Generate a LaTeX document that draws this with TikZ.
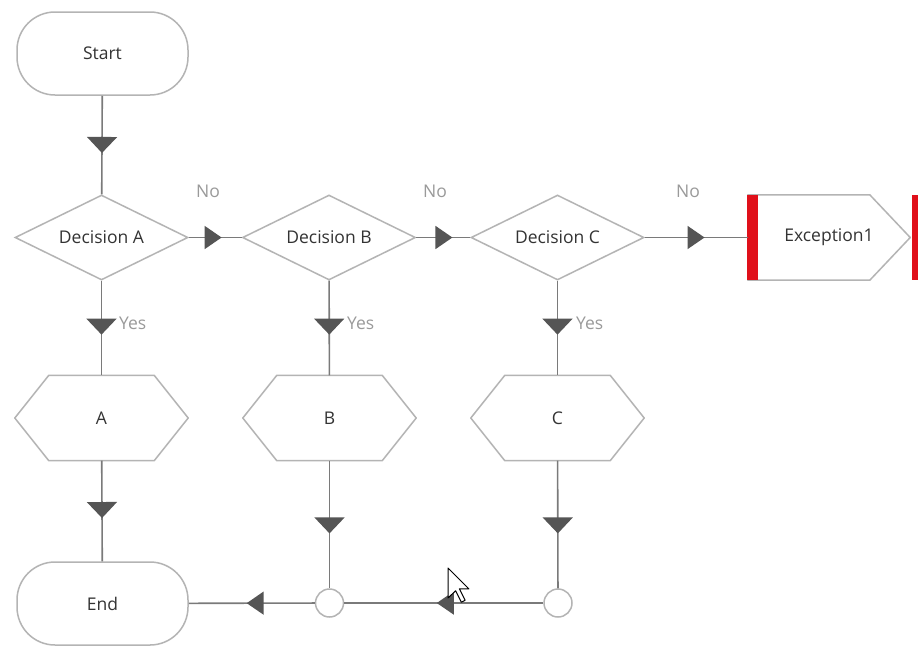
\documentclass[tikz,border=0pt]{standalone}
\usepackage{fontspec}
\setmainfont{Open Sans}
\usetikzlibrary{shapes.geometric,arrows.meta,decorations.markings}
\definecolor{shapegray}{HTML}{B4B4B4}
\definecolor{linegray}{HTML}{7A7A7A}
\definecolor{arrowgray}{HTML}{555555}
\definecolor{textgray}{HTML}{333333}
\definecolor{lblgray}{HTML}{9A9A9A}
\definecolor{excred}{HTML}{E0101A}
\begin{document}
\begin{tikzpicture}[x=1pt,y=-1pt,
  font=\fontsize{17.5}{21}\selectfont,
  shapeline/.style={draw=shapegray, line width=1.5pt},
  term/.style={shapeline, fill=white, text=textgray, rectangle, rounded corners=38pt, minimum width=171pt, minimum height=83pt},
  dec/.style={shapeline, fill=white, text=textgray, diamond, aspect=2, inner sep=0pt, minimum width=173pt, minimum height=85pt},
  hexbox/.style={rectangle, text=textgray, minimum width=173pt, minimum height=85pt},
  excbox/.style={rectangle, text=textgray, minimum width=162pt, minimum height=85pt},
  junction/.style={shapeline, fill=white, circle, inner sep=0pt, minimum size=28pt},
  lbl/.style={text=lblgray, inner sep=0pt},
  conn/.style={draw=linegray, line width=1.6pt},
  vtip/.style={postaction={decorate,decoration={markings,mark=at position #1 with {\arrow{Triangle[width=30pt,length=16pt,color=arrowgray]}}}}},
  htip/.style={postaction={decorate,decoration={markings,mark=at position #1 with {\arrow{Triangle[width=23pt,length=17pt,color=arrowgray]}}}}}
]
\useasboundingbox (0,0) rectangle (918,646);
\fill[white] (0,0) rectangle (918,646);

% nodes
\node[term] (start) at (102.5,53.5) {Start};
\node[dec] (decA) at (101.5,237.5) {Decision A};
\node[dec] (decB) at (329,237.5) {Decision B};
\node[dec] (decC) at (557.5,237.5) {Decision C};
\node[excbox] (exc) at (829,237.5) {Exception1};
\node[hexbox] (hA) at (101.5,418) {A};
\node[hexbox] (hB) at (329.5,418) {B};
\node[hexbox] (hC) at (557.5,418) {C};
\node[term] (end) at (102.5,603.5) {End};
\node[junction] (cB) at (329.5,603) {};
\node[junction] (cC) at (558,603) {};

% hexagon outlines
\foreach \h in {hA,hB,hC}{
  \draw[shapeline, line join=round] (\h.west) -- ([xshift=34pt]\h.north west) -- ([xshift=-34pt]\h.north east)
    -- (\h.east) -- ([xshift=-34pt]\h.south east) -- ([xshift=34pt]\h.south west) -- cycle;
}

% exception outline and red bars
\draw[shapeline, line join=round] (exc.north west) -- ([xshift=122pt]exc.north west) -- (exc.east)
  -- ([xshift=122pt]exc.south west) -- (exc.south west) -- cycle;
\fill[excred] ([xshift=-1pt]exc.north west) rectangle ([xshift=10pt]exc.south west);
\fill[excred] ([xshift=2pt]exc.north east) rectangle ([xshift=16pt]exc.south east);

% connectors
\draw[conn,vtip=0.58] (start) -- (decA);
\draw[conn,htip=0.62] (decA) -- (decB);
\draw[conn,htip=0.67] (decB) -- (decC);
\draw[conn,htip=0.58] (decC) -- (exc);
\draw[conn,vtip=0.57] (decA) -- (hA);
\draw[conn,vtip=0.57] (decB) -- (hB);
\draw[conn,vtip=0.57] (decC) -- (hC);
\draw[conn,vtip=0.57] (hA) -- (end);
\draw[conn,vtip=0.57] (hB) -- (cB);
\draw[conn,vtip=0.57] (hC) -- (cC);
\draw[conn,htip=0.535] (cC) -- (cB);
\draw[conn,htip=0.54] (cB) -- (end);

% labels
\node[lbl] (noA) at (208,191) {No};
\node[lbl] (noB) at (435,191) {No};
\node[lbl] (noC) at (688,191) {No};
\node[lbl, anchor=west] (yesA) at (119,323) {Yes};
\node[lbl, anchor=west] (yesB) at (347,323) {Yes};
\node[lbl, anchor=west] (yesC) at (576,323) {Yes};

% mouse cursor
\draw[black, fill=white, line width=1pt, line join=round]
  (448,568) -- (448,598) -- (455.6,590.8) -- (461.3,602.2) -- (465.1,600.3) -- (459.4,588.9) -- (468.9,588.9) -- cycle;
\end{tikzpicture}
\end{document}
